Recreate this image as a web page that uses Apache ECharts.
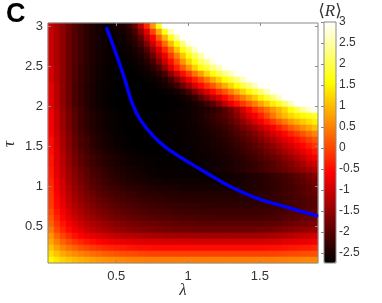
<!DOCTYPE html>
<html>
<head>
<meta charset="utf-8">
<script src="https://cdn.jsdelivr.net/npm/echarts@6/dist/echarts.min.js"></script>
<style>html,body{margin:0;padding:0;background:#fff;}#c{width:382px;height:303px;}</style>
</head>
<body>
<div id="c"></div>
<script>
// lambda cell centres (x categories)
const lambdaCenters = [0.046,0.088,0.130,0.171,0.213,0.255,0.297,0.338,0.380,0.422,0.464,0.505,0.547,0.589,0.631,0.673,0.714,0.756,0.798,0.840,0.881,0.923,0.965,1.007,1.049,1.090,1.132,1.174,1.216,1.257,1.299,1.341,1.383,1.425,1.466,1.508,1.550,1.592,1.633,1.675,1.717,1.759,1.801,1.842,1.884];
// tau cell centres, bottom to top (y categories)
const tauCenters = [0.075,0.15,0.225,0.3,0.375,0.45,0.525,0.6,0.675,0.75,0.825,0.9,0.975,1.05,1.125,1.2,1.275,1.35,1.425,1.5,1.575,1.65,1.725,1.8,1.875,1.95,2.025,2.1,2.175,2.25,2.325,2.4,2.475,2.55,2.625,2.7,2.775,2.85,2.925,3.0];
// <R> values, rows from top (tau=3.0) to bottom (tau=0.075)
const meanR = [
[-1.02,-1.30,-1.53,-1.82,-2.05,-2.22,-2.37,-2.48,-2.57,-2.63,-2.67,-2.58,-2.51,-2.31,-1.92,-1.13,-0.27,0.70,1.79,3,3,3,3,3,3,3,3,3,3,3,3,3,3,3,3,3,3,3,3,3,3,3,3,3,3],
[-1.02,-1.30,-1.53,-1.82,-2.05,-2.22,-2.37,-2.48,-2.57,-2.63,-2.67,-2.61,-2.57,-2.43,-2.17,-1.56,-0.85,0.00,0.85,1.71,2.57,3,3,3,3,3,3,3,3,3,3,3,3,3,3,3,3,3,3,3,3,3,3,3,3],
[-1.02,-1.30,-1.53,-1.82,-2.05,-2.22,-2.37,-2.48,-2.57,-2.63,-2.67,-2.64,-2.61,-2.51,-2.31,-1.94,-1.25,-0.59,0.19,0.93,1.68,2.43,3,3,3,3,3,3,3,3,3,3,3,3,3,3,3,3,3,3,3,3,3,3,3],
[-1.02,-1.30,-1.53,-1.82,-2.05,-2.22,-2.37,-2.48,-2.57,-2.63,-2.67,-2.65,-2.65,-2.57,-2.43,-2.17,-1.65,-1.02,-0.36,0.30,0.99,1.62,2.25,2.83,3,3,3,3,3,3,3,3,3,3,3,3,3,3,3,3,3,3,3,3,3],
[-1.02,-1.30,-1.53,-1.82,-2.05,-2.22,-2.37,-2.48,-2.57,-2.63,-2.67,-2.67,-2.68,-2.63,-2.53,-2.36,-2.05,-1.48,-0.90,-0.27,0.36,1.05,1.62,2.14,2.66,3,3,3,3,3,3,3,3,3,3,3,3,3,3,3,3,3,3,3,3],
[-1.02,-1.30,-1.53,-1.82,-2.05,-2.22,-2.37,-2.48,-2.57,-2.63,-2.67,-2.71,-2.70,-2.67,-2.60,-2.49,-2.28,-1.85,-1.28,-0.70,-0.10,0.47,1.08,1.62,2.08,2.48,2.94,3,3,3,3,3,3,3,3,3,3,3,3,3,3,3,3,3,3],
[-1.02,-1.30,-1.53,-1.82,-2.05,-2.22,-2.37,-2.48,-2.57,-2.63,-2.67,-2.71,-2.74,-2.69,-2.65,-2.57,-2.43,-2.17,-1.65,-1.08,-0.50,0.07,0.65,1.19,1.68,2.08,2.43,2.83,3,3,3,3,3,3,3,3,3,3,3,3,3,3,3,3,3],
[-0.90,-1.25,-1.53,-1.82,-2.08,-2.25,-2.40,-2.51,-2.60,-2.65,-2.69,-2.72,-2.74,-2.74,-2.68,-2.64,-2.55,-2.40,-2.11,-1.53,-0.90,-0.33,0.16,0.65,1.16,1.62,1.97,2.28,2.60,2.94,3,3,3,3,3,3,3,3,3,3,3,3,3,3,3],
[-0.90,-1.25,-1.53,-1.82,-2.08,-2.25,-2.40,-2.51,-2.60,-2.65,-2.69,-2.72,-2.74,-2.74,-2.74,-2.68,-2.64,-2.55,-2.40,-2.11,-1.59,-1.05,-0.50,-0.10,0.36,0.76,1.22,1.62,1.94,2.28,2.60,2.94,3,3,3,3,3,3,3,3,3,3,3,3,3],
[-0.90,-1.25,-1.53,-1.82,-2.08,-2.25,-2.40,-2.51,-2.60,-2.65,-2.69,-2.72,-2.74,-2.74,-2.74,-2.74,-2.69,-2.65,-2.57,-2.43,-2.17,-1.71,-1.25,-0.73,-0.33,0.04,0.42,0.82,1.19,1.56,1.91,2.25,2.60,2.94,3,3,3,3,3,3,3,3,3,3,3],
[-0.79,-1.19,-1.53,-1.82,-2.11,-2.28,-2.42,-2.54,-2.63,-2.67,-2.71,-2.74,-2.74,-2.74,-2.74,-2.74,-2.74,-2.70,-2.66,-2.58,-2.45,-2.22,-1.82,-1.39,-0.96,-0.53,-0.19,0.16,0.53,0.88,1.22,1.56,1.91,2.25,2.60,2.94,3,3,3,3,3,3,3,3,3],
[-0.79,-1.19,-1.53,-1.82,-2.11,-2.28,-2.42,-2.54,-2.63,-2.67,-2.71,-2.74,-2.74,-2.74,-2.74,-2.74,-2.74,-2.74,-2.71,-2.68,-2.64,-2.55,-2.40,-2.11,-1.71,-1.30,-0.90,-0.53,-0.19,0.13,0.47,0.82,1.16,1.51,1.85,2.22,2.60,2.94,3,3,3,3,3,3,3],
[-0.79,-1.19,-1.53,-1.82,-2.11,-2.28,-2.42,-2.54,-2.63,-2.67,-2.71,-2.74,-2.74,-2.74,-2.74,-2.74,-2.74,-2.74,-2.74,-2.72,-2.71,-2.67,-2.61,-2.51,-2.31,-1.99,-1.62,-1.25,-0.90,-0.53,-0.21,0.13,0.47,0.79,1.11,1.45,1.82,2.20,2.60,3,3,3,3,3,3],
[-0.79,-1.19,-1.53,-1.82,-2.11,-2.28,-2.42,-2.54,-2.63,-2.67,-2.71,-2.74,-2.74,-2.74,-2.74,-2.74,-2.74,-2.74,-2.74,-2.74,-2.72,-2.70,-2.67,-2.63,-2.55,-2.42,-2.22,-1.99,-1.59,-1.19,-0.79,-0.44,-0.13,0.19,0.47,0.79,1.11,1.42,1.74,2.17,2.60,3,3,3,3],
[-0.73,-1.13,-1.48,-1.76,-2.05,-2.22,-2.38,-2.50,-2.58,-2.64,-2.68,-2.71,-2.74,-2.74,-2.74,-2.74,-2.74,-2.74,-2.74,-2.71,-2.70,-2.68,-2.66,-2.63,-2.59,-2.54,-2.47,-2.38,-2.25,-2.05,-1.76,-1.42,-1.02,-0.56,-0.21,0.07,0.36,0.65,0.93,1.22,1.56,1.97,2.37,2.71,2.89],
[-0.65,-1.08,-1.42,-1.71,-1.99,-2.19,-2.34,-2.45,-2.54,-2.60,-2.65,-2.69,-2.72,-2.74,-2.74,-2.74,-2.74,-2.74,-2.72,-2.71,-2.69,-2.68,-2.65,-2.61,-2.57,-2.51,-2.41,-2.28,-2.17,-2.02,-1.85,-1.59,-1.25,-0.90,-0.62,-0.33,0.02,0.39,0.76,0.99,1.22,1.42,1.56,1.71,1.85],
[-0.65,-1.08,-1.42,-1.71,-1.99,-2.19,-2.34,-2.45,-2.54,-2.60,-2.65,-2.69,-2.72,-2.74,-2.74,-2.74,-2.74,-2.74,-2.72,-2.71,-2.70,-2.68,-2.66,-2.63,-2.59,-2.53,-2.46,-2.37,-2.25,-2.14,-1.99,-1.79,-1.53,-1.25,-0.96,-0.67,-0.39,-0.10,0.19,0.45,0.70,0.90,1.11,1.28,1.45],
[-0.65,-1.08,-1.42,-1.71,-1.99,-2.19,-2.34,-2.45,-2.54,-2.60,-2.65,-2.69,-2.72,-2.74,-2.74,-2.74,-2.74,-2.74,-2.72,-2.72,-2.71,-2.69,-2.67,-2.64,-2.61,-2.57,-2.51,-2.44,-2.35,-2.25,-2.14,-1.99,-1.82,-1.62,-1.39,-1.13,-0.87,-0.62,-0.36,-0.10,0.16,0.39,0.62,0.82,1.02],
[-0.59,-1.02,-1.36,-1.65,-1.94,-2.14,-2.28,-2.41,-2.50,-2.57,-2.63,-2.67,-2.71,-2.74,-2.74,-2.74,-2.74,-2.74,-2.72,-2.72,-2.71,-2.69,-2.68,-2.65,-2.63,-2.59,-2.54,-2.49,-2.42,-2.34,-2.24,-2.13,-1.99,-1.84,-1.65,-1.45,-1.22,-0.99,-0.76,-0.53,-0.30,-0.10,0.13,0.33,0.53],
[-0.50,-0.96,-1.30,-1.59,-1.88,-2.08,-2.22,-2.37,-2.45,-2.54,-2.60,-2.65,-2.68,-2.71,-2.74,-2.74,-2.74,-2.74,-2.72,-2.72,-2.71,-2.70,-2.68,-2.66,-2.64,-2.61,-2.57,-2.52,-2.46,-2.40,-2.32,-2.22,-2.11,-1.98,-1.83,-1.67,-1.48,-1.28,-1.08,-0.87,-0.67,-0.47,-0.27,-0.07,0.13],
[-0.50,-0.96,-1.30,-1.59,-1.88,-2.08,-2.22,-2.37,-2.45,-2.54,-2.60,-2.65,-2.68,-2.71,-2.74,-2.74,-2.74,-2.74,-2.72,-2.72,-2.71,-2.70,-2.69,-2.67,-2.65,-2.63,-2.59,-2.55,-2.50,-2.45,-2.38,-2.30,-2.21,-2.10,-1.98,-1.84,-1.68,-1.52,-1.33,-1.14,-0.95,-0.75,-0.55,-0.35,-0.16],
[-0.47,-0.91,-1.25,-1.53,-1.81,-2.01,-2.17,-2.29,-2.38,-2.48,-2.53,-2.59,-2.63,-2.67,-2.69,-2.70,-2.72,-2.73,-2.72,-2.72,-2.71,-2.70,-2.69,-2.68,-2.66,-2.64,-2.61,-2.57,-2.53,-2.49,-2.43,-2.36,-2.28,-2.19,-2.09,-1.97,-1.84,-1.70,-1.53,-1.36,-1.18,-0.99,-0.79,-0.59,-0.39],
[-0.42,-0.87,-1.19,-1.48,-1.74,-1.94,-2.08,-2.22,-2.31,-2.41,-2.46,-2.52,-2.57,-2.61,-2.64,-2.65,-2.68,-2.69,-2.71,-2.73,-2.72,-2.71,-2.70,-2.69,-2.67,-2.65,-2.63,-2.60,-2.57,-2.53,-2.48,-2.42,-2.36,-2.28,-2.19,-2.10,-1.99,-1.87,-1.74,-1.59,-1.43,-1.26,-1.08,-0.87,-0.67],
[-0.42,-0.87,-1.19,-1.48,-1.74,-1.94,-2.08,-2.22,-2.31,-2.41,-2.46,-2.52,-2.57,-2.61,-2.64,-2.65,-2.68,-2.69,-2.71,-2.71,-2.71,-2.71,-2.71,-2.71,-2.67,-2.66,-2.64,-2.62,-2.59,-2.56,-2.52,-2.47,-2.41,-2.35,-2.28,-2.20,-2.11,-2.01,-1.89,-1.76,-1.63,-1.48,-1.32,-1.14,-0.96],
[-0.36,-0.82,-1.13,-1.41,-1.65,-1.83,-1.99,-2.14,-2.22,-2.33,-2.39,-2.45,-2.50,-2.55,-2.58,-2.60,-2.63,-2.65,-2.67,-2.68,-2.69,-2.69,-2.69,-2.69,-2.66,-2.64,-2.63,-2.60,-2.57,-2.54,-2.50,-2.45,-2.40,-2.34,-2.28,-2.21,-2.14,-2.05,-1.96,-1.86,-1.75,-1.64,-1.52,-1.39,-1.25],
[-0.33,-0.79,-1.08,-1.36,-1.59,-1.76,-1.94,-2.08,-2.17,-2.28,-2.34,-2.40,-2.45,-2.51,-2.54,-2.57,-2.60,-2.63,-2.65,-2.67,-2.67,-2.67,-2.67,-2.67,-2.67,-2.67,-2.66,-2.65,-2.63,-2.61,-2.59,-2.57,-2.54,-2.50,-2.46,-2.42,-2.37,-2.30,-2.23,-2.17,-2.08,-1.98,-1.88,-1.76,-1.62],
[-0.27,-0.73,-1.02,-1.30,-1.53,-1.71,-1.88,-2.02,-2.12,-2.22,-2.29,-2.35,-2.41,-2.45,-2.49,-2.51,-2.53,-2.56,-2.58,-2.60,-2.61,-2.61,-2.61,-2.61,-2.61,-2.61,-2.61,-2.61,-2.60,-2.59,-2.57,-2.56,-2.53,-2.50,-2.47,-2.43,-2.38,-2.33,-2.28,-2.21,-2.14,-2.05,-1.95,-1.85,-1.71],
[-0.21,-0.67,-0.96,-1.25,-1.48,-1.65,-1.82,-1.94,-2.05,-2.14,-2.21,-2.27,-2.33,-2.37,-2.41,-2.44,-2.46,-2.49,-2.50,-2.52,-2.53,-2.54,-2.56,-2.56,-2.56,-2.56,-2.56,-2.56,-2.56,-2.56,-2.55,-2.54,-2.52,-2.50,-2.47,-2.44,-2.40,-2.35,-2.30,-2.24,-2.18,-2.11,-2.02,-1.94,-1.82],
[-0.16,-0.59,-0.90,-1.16,-1.39,-1.56,-1.72,-1.84,-1.95,-2.04,-2.11,-2.17,-2.22,-2.27,-2.30,-2.34,-2.36,-2.38,-2.40,-2.42,-2.43,-2.44,-2.45,-2.46,-2.46,-2.46,-2.46,-2.46,-2.46,-2.46,-2.46,-2.46,-2.45,-2.44,-2.41,-2.38,-2.35,-2.31,-2.26,-2.21,-2.15,-2.09,-2.02,-1.95,-1.88],
[-0.13,-0.53,-0.85,-1.10,-1.33,-1.51,-1.65,-1.76,-1.87,-1.95,-2.03,-2.09,-2.14,-2.19,-2.22,-2.26,-2.29,-2.31,-2.33,-2.35,-2.37,-2.38,-2.39,-2.40,-2.41,-2.41,-2.41,-2.41,-2.41,-2.41,-2.41,-2.41,-2.41,-2.41,-2.40,-2.38,-2.36,-2.33,-2.29,-2.25,-2.21,-2.15,-2.10,-2.03,-1.97],
[-0.10,-0.50,-0.79,-1.05,-1.25,-1.42,-1.56,-1.68,-1.78,-1.86,-1.93,-1.99,-2.05,-2.09,-2.12,-2.15,-2.18,-2.21,-2.23,-2.25,-2.27,-2.29,-2.30,-2.31,-2.32,-2.33,-2.34,-2.34,-2.34,-2.34,-2.34,-2.34,-2.34,-2.34,-2.34,-2.33,-2.31,-2.29,-2.26,-2.22,-2.18,-2.14,-2.09,-2.04,-1.98],
[0.02,-0.39,-0.67,-0.93,-1.13,-1.30,-1.45,-1.56,-1.66,-1.75,-1.82,-1.89,-1.94,-1.98,-2.02,-2.06,-2.09,-2.11,-2.13,-2.15,-2.17,-2.19,-2.21,-2.22,-2.23,-2.24,-2.25,-2.25,-2.25,-2.25,-2.25,-2.25,-2.25,-2.25,-2.25,-2.24,-2.22,-2.20,-2.17,-2.14,-2.10,-2.05,-2.01,-1.95,-1.90],
[0.13,-0.27,-0.56,-0.82,-1.02,-1.19,-1.33,-1.45,-1.55,-1.64,-1.71,-1.78,-1.83,-1.88,-1.92,-1.95,-1.98,-2.01,-2.03,-2.06,-2.07,-2.09,-2.11,-2.12,-2.13,-2.14,-2.15,-2.16,-2.17,-2.17,-2.17,-2.17,-2.17,-2.17,-2.17,-2.15,-2.14,-2.11,-2.09,-2.05,-2.01,-1.97,-1.92,-1.88,-1.83],
[0.24,-0.13,-0.42,-0.65,-0.85,-1.02,-1.16,-1.28,-1.37,-1.46,-1.53,-1.60,-1.66,-1.71,-1.75,-1.78,-1.81,-1.84,-1.86,-1.89,-1.90,-1.92,-1.94,-1.95,-1.96,-1.97,-1.98,-1.99,-1.99,-1.99,-1.99,-1.99,-1.99,-1.99,-1.99,-1.98,-1.96,-1.94,-1.91,-1.87,-1.83,-1.79,-1.75,-1.71,-1.66],
[0.42,0.02,-0.27,-0.50,-0.70,-0.87,-1.02,-1.13,-1.23,-1.32,-1.39,-1.45,-1.51,-1.56,-1.60,-1.63,-1.66,-1.69,-1.71,-1.74,-1.75,-1.77,-1.78,-1.79,-1.80,-1.82,-1.82,-1.82,-1.82,-1.82,-1.82,-1.82,-1.82,-1.82,-1.81,-1.79,-1.77,-1.74,-1.71,-1.67,-1.62,-1.57,-1.52,-1.47,-1.42],
[0.65,0.27,-0.01,-0.24,-0.44,-0.59,-0.72,-0.83,-0.92,-1.00,-1.07,-1.13,-1.18,-1.22,-1.25,-1.28,-1.30,-1.32,-1.34,-1.35,-1.36,-1.37,-1.37,-1.38,-1.39,-1.39,-1.39,-1.39,-1.39,-1.39,-1.39,-1.39,-1.39,-1.39,-1.38,-1.36,-1.34,-1.31,-1.28,-1.24,-1.19,-1.14,-1.09,-1.04,-0.99],
[0.82,0.50,0.24,0.04,-0.13,-0.27,-0.39,-0.48,-0.56,-0.63,-0.69,-0.74,-0.78,-0.81,-0.84,-0.86,-0.89,-0.90,-0.91,-0.93,-0.94,-0.94,-0.95,-0.95,-0.96,-0.96,-0.96,-0.96,-0.96,-0.96,-0.96,-0.96,-0.96,-0.96,-0.96,-0.95,-0.93,-0.91,-0.89,-0.86,-0.83,-0.79,-0.76,-0.72,-0.67],
[1.05,0.76,0.53,0.36,0.22,0.09,-0.01,-0.10,-0.17,-0.24,-0.29,-0.33,-0.37,-0.41,-0.44,-0.46,-0.48,-0.49,-0.50,-0.50,-0.50,-0.50,-0.50,-0.50,-0.50,-0.50,-0.50,-0.50,-0.50,-0.50,-0.50,-0.50,-0.50,-0.50,-0.50,-0.50,-0.49,-0.47,-0.46,-0.43,-0.41,-0.39,-0.36,-0.33,-0.30],
[1.28,1.05,0.85,0.70,0.59,0.49,0.41,0.33,0.27,0.21,0.16,0.11,0.07,0.04,0.02,-0.01,-0.03,-0.04,-0.04,-0.04,-0.04,-0.04,-0.04,-0.04,-0.04,-0.04,-0.04,-0.04,-0.04,-0.04,-0.04,-0.04,-0.04,-0.04,-0.04,-0.04,-0.04,-0.03,-0.02,0.00,0.02,0.03,0.05,0.07,0.10],
[1.51,1.34,1.19,1.08,0.97,0.89,0.81,0.75,0.69,0.65,0.61,0.57,0.54,0.52,0.50,0.49,0.48,0.47,0.47,0.47,0.47,0.47,0.47,0.47,0.47,0.47,0.47,0.47,0.47,0.47,0.47,0.47,0.47,0.47,0.47,0.47,0.47,0.48,0.49,0.49,0.50,0.51,0.53,0.54,0.55]
];
// blue curve
const lineLambda = [0.434,0.50,0.56,0.61,0.667,0.76,0.852,1.014,1.131,1.293,1.478,1.71,1.895];
const lineTau    = [2.97,2.65,2.33,2.04,1.83,1.62,1.474,1.286,1.161,0.994,0.849,0.724,0.628];
// ticks
const xTicks = [0.5,1,1.5];
const yTicks = [0.5,1,1.5,2,2.5,3];
const cbarTicks = [-2.5,-2,-1.5,-1,-0.5,0,0.5,1,1.5,2,2.5,3];
const cbarMin = -2.74, cbarMax = 3;
const xRange = [0.025,1.905], yRange = [0.0375,3.0375];

const heatData = [];
meanR.forEach((row, k) => {
  const yi = tauCenters.length - 1 - k;
  row.forEach((v, i) => heatData.push([i, yi, v]));
});
const lineData = lineLambda.map((l, i) => [l, lineTau[i]]);

const F = 'Liberation Sans, Arial, Helvetica, sans-serif';
const axisCol = '#8a8a8a', txtCol = '#333';
const G = {left: 48, top: 23, width: 270, height: 240};
const CB = {left: 324, top: 22, width: 12, height: 241};

const chart = echarts.init(document.getElementById('c'), null, {renderer: 'canvas'});
chart.setOption({
  animation: false,
  backgroundColor: '#fff',
  grid: [
    Object.assign({}, G),
    Object.assign({show: true, borderColor: axisCol, borderWidth: 1, backgroundColor: 'transparent', z: 3}, G),
    Object.assign({show: true, borderColor: axisCol, borderWidth: 1, backgroundColor: 'transparent', z: 6}, CB)
  ],
  xAxis: [
    {type: 'category', gridIndex: 0, data: lambdaCenters, show: false},
    {type: 'value', gridIndex: 1, min: xRange[0], max: xRange[1], position: 'bottom', z: 6,
      axisLine: {show: false}, splitLine: {show: false},
      axisTick: {show: true, inside: true, length: 3, customValues: xTicks, lineStyle: {color: axisCol}},
      axisLabel: {customValues: xTicks, color: txtCol, fontFamily: F, fontSize: 13, margin: 7}},
    {type: 'value', gridIndex: 1, min: xRange[0], max: xRange[1], position: 'top', z: 6,
      axisLine: {show: false}, splitLine: {show: false},
      axisTick: {show: true, inside: true, length: 3, customValues: xTicks, lineStyle: {color: axisCol}},
      axisLabel: {show: false}},
    {type: 'value', gridIndex: 2, min: 0, max: 1, show: false}
  ],
  yAxis: [
    {type: 'category', gridIndex: 0, data: tauCenters, show: false},
    {type: 'value', gridIndex: 1, min: yRange[0], max: yRange[1], position: 'left', z: 6,
      axisLine: {show: false}, splitLine: {show: false},
      axisTick: {show: true, inside: true, length: 3, customValues: yTicks, lineStyle: {color: axisCol}},
      axisLabel: {customValues: yTicks, color: txtCol, fontFamily: F, fontSize: 13, margin: 5}},
    {type: 'value', gridIndex: 1, min: yRange[0], max: yRange[1], position: 'right', z: 6,
      axisLine: {show: false}, splitLine: {show: false},
      axisTick: {show: true, inside: true, length: 3, customValues: yTicks, lineStyle: {color: axisCol}},
      axisLabel: {show: false}},
    {type: 'value', gridIndex: 2, min: cbarMin, max: cbarMax, position: 'right', z: 7,
      axisLine: {show: false}, splitLine: {show: false},
      axisTick: {show: true, inside: true, length: 3, customValues: cbarTicks, lineStyle: {color: axisCol}},
      axisLabel: {customValues: cbarTicks, color: txtCol, fontFamily: F, fontSize: 12, margin: 3}}
  ],
  visualMap: {
    type: 'continuous', min: cbarMin, max: cbarMax, seriesIndex: 0,
    left: CB.left, top: CB.top, itemWidth: CB.width, itemHeight: CB.height,
    padding: 0, calculable: false, realtime: false, hoverLink: false,
    inRange: {color: ['#000000','#550000','#aa0000','#ff0000','#ff5500','#ffaa00','#ffff00','#ffff80','#ffffff']}
  },
  graphic: [
    {type: 'text', left: 6, top: 1, style: {text: 'C', font: 'bold 27px ' + F, fill: '#000'}},
    {type: 'text', x: 183, y: 291, style: {text: 'λ', font: 'italic 17px Liberation Serif, DejaVu Serif, serif', fill: txtCol, align: 'center', verticalAlign: 'middle'}},
    {type: 'text', x: 10, y: 144, rotation: Math.PI / 2, style: {text: 'τ', font: 'italic 17px Liberation Serif, DejaVu Serif, serif', fill: txtCol, align: 'center', verticalAlign: 'middle'}},
    {type: 'text', x: 330, y: 12, style: {
      text: '{a|⟨}{b|R}{a|⟩}', align: 'center', verticalAlign: 'middle',
      rich: {a: {font: '17px DejaVu Serif, serif', fill: txtCol}, b: {font: 'italic 17px Liberation Serif, serif', fill: txtCol}}
    }}
  ],
  series: [
    {type: 'heatmap', xAxisIndex: 0, yAxisIndex: 0, data: heatData, itemStyle: {borderWidth: 0}, emphasis: {disabled: true}, progressive: 0},
    {type: 'line', xAxisIndex: 1, yAxisIndex: 1, data: lineData, smooth: 0.35, symbol: 'none', z: 10,
      lineStyle: {color: '#0000ff', width: 3.5, cap: 'round'}}
  ]
});
</script>
</body>
</html>
